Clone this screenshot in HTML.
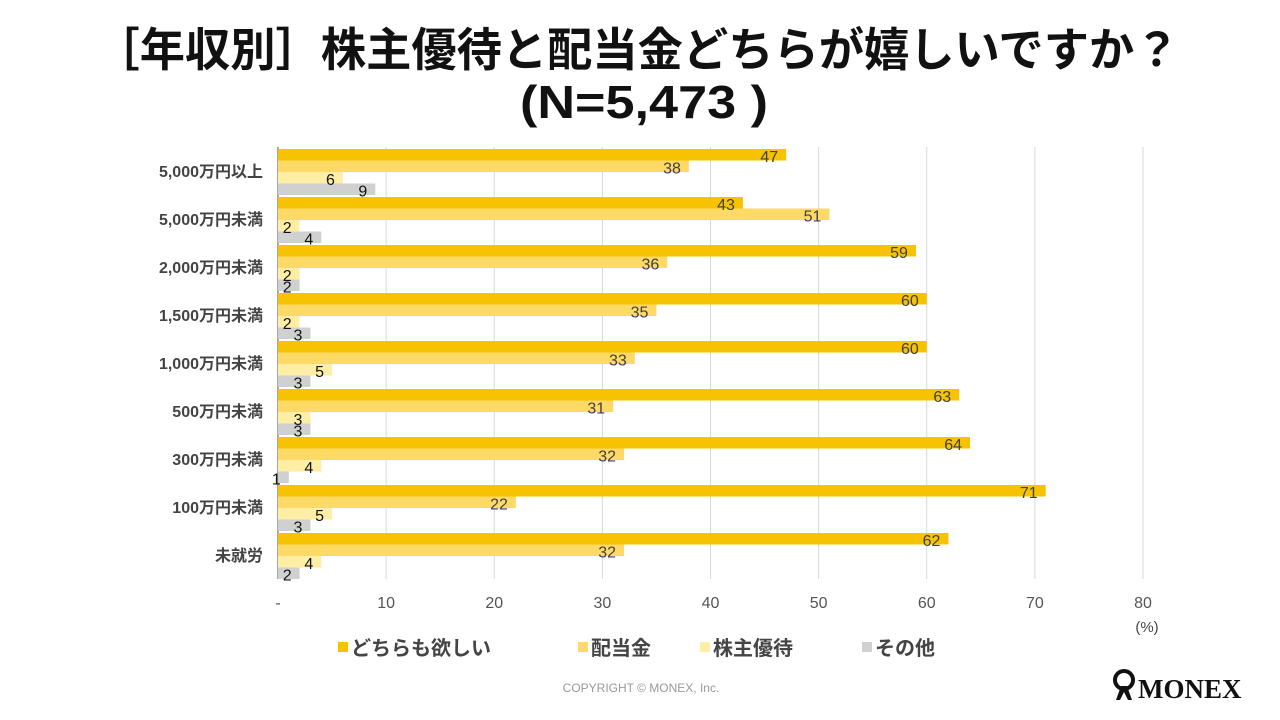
<!DOCTYPE html>
<html><head><meta charset="utf-8"><style>
body{margin:0;background:#fff;}
svg{display:block;font-family:"Liberation Sans","Noto Sans CJK JP",sans-serif;}
</style></head><body>
<svg id="c" width="1280" height="720" viewBox="0 0 1280 720">
<text x="637" y="66" font-size="46" font-weight="bold" text-anchor="middle" textLength="1085" lengthAdjust="spacingAndGlyphs" fill="#111">［年収別］株主優待と配当金どちらが嬉しいですか？</text>
<text x="644" y="118" font-size="46" font-weight="bold" text-anchor="middle" textLength="248" lengthAdjust="spacingAndGlyphs" fill="#111">(N=5,473 )</text>
<g id="grid"></g><g id="bars"></g><g id="labels"></g>
<text x="1147" y="632" font-size="15" text-anchor="middle" fill="#444">(%)</text>
<g id="legend"></g>
<text x="641" y="692" font-size="12" text-anchor="middle" fill="#999">COPYRIGHT © MONEX, Inc.</text>
<g>
<circle cx="1124" cy="680" r="9" fill="none" stroke="#111" stroke-width="4"/>
<path d="M1116 700 L1121 686 L1127 686 L1132 700 L1128 700 L1124 692 L1120 700Z" fill="#111"/>
<text x="1138" y="698" font-family="Liberation Serif,serif" font-size="27" font-weight="bold" fill="#111">MONEX</text>
</g>
</svg>
<script>
const categories=["5,000万円以上","5,000万円未満","2,000万円未満","1,500万円未満","1,000万円未満","500万円未満","300万円未満","100万円未満","未就労"];
const seriesNames=["どちらも欲しい","配当金","株主優待","その他"];
const both=[47,43,59,60,60,63,64,71,62];
const dividend=[38,51,36,35,33,31,32,22,32];
const yutai=[6,2,2,2,5,3,4,5,4];
const other=[9,4,2,3,3,3,1,3,2];
const ticks=[0,10,20,30,40,50,60,70,80];
const tickLabels=["-","10","20","30","40","50","60","70","80"];
const series=[both,dividend,yutai,other];
const colors=["#F7C300","#FDD966","#FEEEA6","#D0D0D0"];
const labelColors=["#404040","#404040","#111","#111"];
const X0=278,X1=1143,XMAX=80,Y0=147,BAND=48;
const x=v=>X0+(v/XMAX)*(X1-X0);
const ns="http://www.w3.org/2000/svg";
function mk(t,a,p){const e=document.createElementNS(ns,t);for(const k in a)e.setAttribute(k,a[k]);p.appendChild(e);return e;}
const grid=document.getElementById('grid'),bars=document.getElementById('bars'),labels=document.getElementById('labels'),legend=document.getElementById('legend');
ticks.forEach((t,i)=>{
 if(t>0){const l=mk('line',{x1:x(t),x2:x(t),y1:Y0,y2:Y0+BAND*categories.length,stroke:'#d9d9d9','stroke-width':1},grid);
 
 }
 const tx=mk('text',{x:x(t),y:608,'font-size':16,'text-anchor':'middle',fill:'#555'},grid);
 tx.textContent=tickLabels[i];
 
 
});
categories.forEach((c,i)=>{
 const y=Y0+i*BAND;
 const t=mk('text',{x:263,y:y+30,'font-size':16,'font-weight':'bold','text-anchor':'end',fill:'#444'},labels);
 t.textContent=c;
 
 
 series.forEach((s,j)=>{
  const by=y+2+j*11.5;
  const r=mk('rect',{x:X0,y:by,width:x(s[i])-X0,height:11.5,fill:colors[j]},bars);
  
  
  const v=mk('text',{x:x(s[i])-8,y:by+13,'font-size':16,'text-anchor':'end',fill:labelColors[j]},labels);
  v.textContent=s[i];
  
  
 });
});
const ax=mk('line',{x1:X0,x2:X0,y1:Y0,y2:Y0+BAND*categories.length,stroke:'#888','stroke-width':1.5},grid);


const lx=[338,578,700,862];
seriesNames.forEach((n,j)=>{
 const g=mk('g',{},legend);
 
 
 mk('rect',{x:lx[j],y:642,width:10,height:10,fill:colors[j]},g);
 const t=mk('text',{x:lx[j]+13,y:655,'font-size':20,'font-weight':'bold',fill:'#444'},g);
 t.textContent=n;
});
</script>
</body></html>
